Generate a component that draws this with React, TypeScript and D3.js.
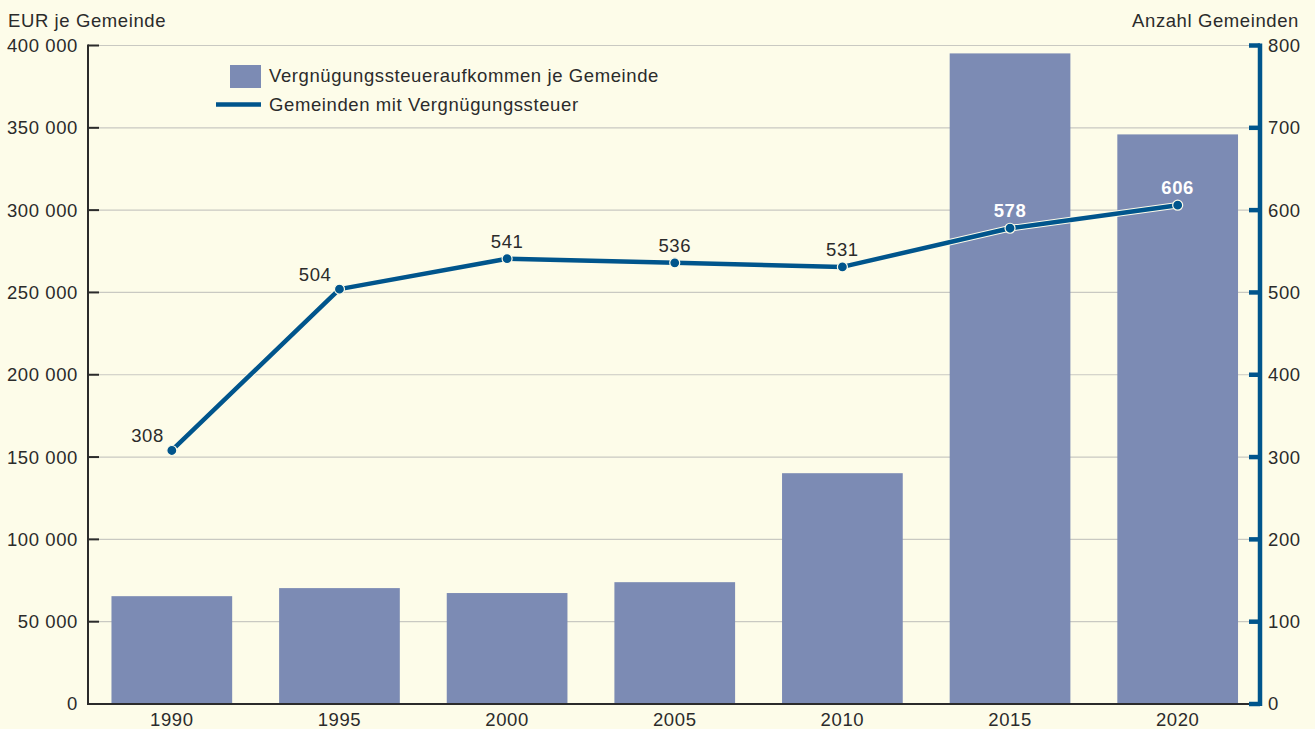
import React from 'react';
import * as d3 from 'd3';

const years = ['1990', '1995', '2000', '2005', '2010', '2015', '2020'];
const revenuePerMunicipality = [65500, 70400, 67400, 74000, 140200, 395200, 346000];
const municipalitiesWithTax = [308, 504, 541, 536, 531, 578, 606];
const leftTicks = [0, 50000, 100000, 150000, 200000, 250000, 300000, 350000, 400000];
const rightTicks = [0, 100, 200, 300, 400, 500, 600, 700, 800];

const W = 1315;
const H = 729;
const BG = '#fdfce9';
const BAR = '#7c8bb4';
const BLUE = '#00558c';
const DARK = '#2b2b2b';
const FONT = '"Liberation Sans", Arial, sans-serif';
const FS = 18.5;
const LS = 0.6;

const fmt = (v: number) => (v === 0 ? '0' : d3.format(',')(v).replace(/,/g, ' '));

const App: React.FC = () => {
  const left = 88;
  const right = 1260;
  const top = 45.5;
  const bottom = 704;

  const x = d3.scaleBand<string>().domain(years).range([left, 1261.5]).paddingInner(0.28).paddingOuter(0.14);
  const yL = d3.scaleLinear().domain([0, 400000]).range([bottom, top]);
  const yR = d3.scaleLinear().domain([0, 800]).range([bottom, top]);

  const pts: [number, number][] = years.map((yr, i) => [
    (x(yr) as number) + x.bandwidth() / 2,
    yR(municipalitiesWithTax[i]),
  ]);
  const line = d3.line<[number, number]>().x(d => d[0]).y(d => d[1]);

  // label placement: first two to the upper left, last two white bold on bars
  const labelPos = (i: number) => {
    if (i < 2) return { dx: -8, dy: -8, anchor: 'end' };
    return { dx: 0, dy: -11, anchor: 'middle' };
  };

  return (
    <svg
      width={W}
      height={H}
      style={{ position: 'fixed', left: 0, top: 0, background: BG }}
      fontFamily={FONT}
      fontSize={FS}
      letterSpacing={LS}
    >
      <rect width={W} height={H} fill={BG} />

      {/* gridlines */}
      {leftTicks.slice(1).map(t => (
        <line key={t} x1={left} x2={right} y1={yL(t)} y2={yL(t)} stroke="#c9c9c2" strokeWidth={1.2} />
      ))}

      {/* bars */}
      {years.map((yr, i) => (
        <rect
          key={yr}
          x={x(yr)}
          y={yL(revenuePerMunicipality[i])}
          width={x.bandwidth()}
          height={bottom - yL(revenuePerMunicipality[i])}
          fill={BAR}
        />
      ))}

      {/* left axis */}
      <line x1={left} x2={left} y1={top - 1} y2={bottom + 1} stroke={DARK} strokeWidth={2} />
      {leftTicks.map(t => (
        <g key={t}>
          <line x1={left} x2={left + 11} y1={yL(t)} y2={yL(t)} stroke={DARK} strokeWidth={2} />
          <text x={78} y={yL(t)} dy="0.35em" textAnchor="end" fill={DARK}>
            {fmt(t)}
          </text>
        </g>
      ))}

      {/* bottom axis */}
      <line x1={left} x2={right} y1={bottom} y2={bottom} stroke={DARK} strokeWidth={2} />
      {years.map(yr => (
        <text key={yr} x={(x(yr) as number) + x.bandwidth() / 2} y={726} textAnchor="middle" fill={DARK}>
          {yr}
        </text>
      ))}

      {/* right axis */}
      <line x1={right} x2={right} y1={top - 2} y2={bottom + 2} stroke={BLUE} strokeWidth={4.5} />
      {rightTicks.map(t => (
        <g key={t}>
          <line x1={right - 11} x2={right} y1={yR(t)} y2={yR(t)} stroke={BLUE} strokeWidth={4.5} />
          <text x={1268} y={yR(t)} dy="0.35em" textAnchor="start" fill={DARK}>
            {t}
          </text>
        </g>
      ))}

      {/* axis titles */}
      <text x={8} y={27} fill={DARK}>EUR je Gemeinde</text>
      <text x={1299} y={27} fill={DARK} textAnchor="end">Anzahl Gemeinden</text>

      {/* line series */}
      <path d={line(pts) as string} fill="none" stroke={BG} strokeWidth={6.5} strokeLinejoin="round" />
      <path d={line(pts) as string} fill="none" stroke={BLUE} strokeWidth={4.5} strokeLinejoin="round" />
      {pts.map((p, i) => (
        <circle key={i} cx={p[0]} cy={p[1]} r={5} fill={BLUE} stroke={BG} strokeWidth={1.2} />
      ))}
      {pts.map((p, i) => {
        const lp = labelPos(i);
        const onBar = i >= 5;
        return (
          <text
            key={i}
            x={p[0] + lp.dx}
            y={p[1] + lp.dy}
            textAnchor={lp.anchor}
            fontWeight={onBar ? 'bold' : 'normal'}
            fill={onBar ? '#ffffff' : DARK}
          >
            {municipalitiesWithTax[i]}
          </text>
        );
      })}

      {/* legend */}
      <rect x={230} y={65} width={31} height={23} fill={BAR} />
      <text x={269} y={82} fill={DARK}>Vergnügungssteueraufkommen je Gemeinde</text>
      <line x1={216} x2={261} y1={104.5} y2={104.5} stroke={BLUE} strokeWidth={4.5} />
      <text x={269} y={111} fill={DARK}>Gemeinden mit Vergnügungssteuer</text>
    </svg>
  );
};

export default App;
